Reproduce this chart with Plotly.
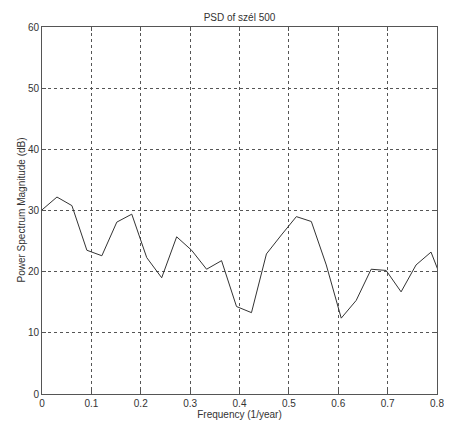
import plotly.graph_objects as go

k = list(range(28))
freq = [i / 33 for i in k]
psd_db = [30.1, 32.2, 30.8, 23.5, 22.6, 28.1, 29.4, 22.3, 19.0, 25.7,
          23.5, 20.4, 21.8, 14.3, 13.3, 22.9, 26.0, 29.0, 28.2, 21.1,
          12.4, 15.3, 20.4, 20.2, 16.7, 21.1, 23.2, 16.9]
x_ticks = [0, 0.1, 0.2, 0.3, 0.4, 0.5, 0.6, 0.7, 0.8]
x_tick_text = ["0", "0.1", "0.2", "0.3", "0.4", "0.5", "0.6", "0.7", "0.8"]
y_ticks = [0, 10, 20, 30, 40, 50, 60]

fig = go.Figure()
fig.add_trace(go.Scatter(x=freq, y=psd_db, mode="lines",
                         line=dict(color="#333333", width=1), showlegend=False,
                         cliponaxis=True))

font = dict(family="Liberation Sans, Arial, sans-serif", size=10, color="#333333")
axis_common = dict(showline=True, linecolor="#555555", linewidth=1, mirror="ticks",
                   ticks="inside", ticklen=4, tickcolor="#555555",
                   showgrid=True, gridcolor="#555555", griddash="dot", gridwidth=1,
                   zeroline=False, tickfont=font, automargin=False)
fig.update_xaxes(range=[0, 0.8], tickvals=x_ticks, ticktext=x_tick_text,
                 title=dict(text="Frequency (1/year)", font=font, standoff=0),
                 **axis_common)
fig.update_yaxes(range=[0, 60], tickvals=y_ticks, **axis_common)
fig.add_annotation(text="Power Spectrum Magnitude (dB)", font=font, textangle=-90,
                   xref="paper", yref="paper", x=-21 / 395, y=0.5,
                   xanchor="center", yanchor="middle", showarrow=False)
fig.update_layout(width=444, height=415, plot_bgcolor="white", paper_bgcolor="white",
                  margin=dict(l=34, r=15, t=19, b=29),
                  title=dict(text="PSD of szél 500", font=font, x=0.5, xref="paper",
                             xanchor="center", y=1 - 9 / 415, yanchor="middle"))
fig.write_html("out.html")
